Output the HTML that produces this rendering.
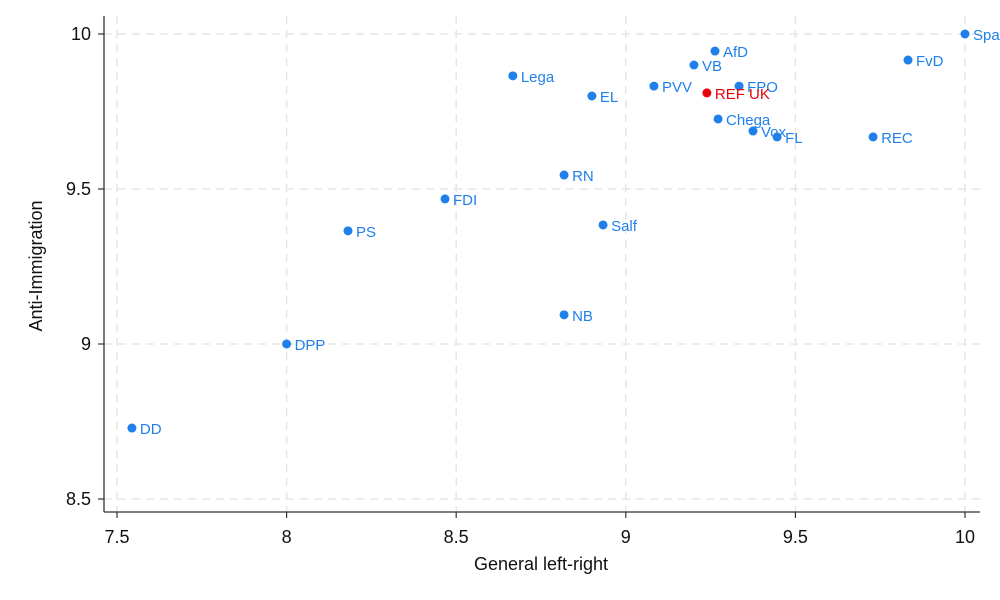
<!DOCTYPE html>
<html><head><meta charset="utf-8"><style>
body{margin:0;background:#fff;}
svg{display:block;font-family:"Liberation Sans",Arial,sans-serif;}
</style></head><body>
<svg id="chart" width="1000" height="600">
<g id="grid"></g>
<g id="axes"></g>
<g id="points"></g>
<text x="541" y="570" text-anchor="middle" font-size="18" fill="#111">General left-right</text>
<text transform="translate(42,266) rotate(-90)" text-anchor="middle" font-size="18" fill="#111">Anti-Immigration</text>
</svg>
<script>
const labels=["Spa","FvD","AfD","VB","PVV","FPO","REF UK","Chega","Vox","FL","REC","Lega","EL","RN","FDI","PS","Salf","NB","DPP","DD"];
const xVals=[10,9.832,9.263,9.201,9.083,9.334,9.239,9.272,9.375,9.446,9.729,8.667,8.900,8.818,8.467,8.181,8.933,8.818,8.0,7.544];
const yVals=[10,9.916,9.945,9.90,9.832,9.832,9.81,9.726,9.687,9.668,9.668,9.865,9.80,9.545,9.468,9.365,9.384,9.094,9.0,8.729];
const highlight=["REF UK"];
const xTicks=[7.5,8,8.5,9,9.5,10];
const yTicks=[8.5,9,9.5,10];
const xTickLabels=["7.5","8","8.5","9","9.5","10"];
const yTickLabels=["8.5","9","9.5","10"];
const NS="http://www.w3.org/2000/svg";
function sx(v){return 117+(v-7.5)*339.2;}
function sy(v){return 34+(10-v)*310;}
function mk(tag,attrs,parent,text){const e=document.createElementNS(NS,tag);for(const k in attrs)e.setAttribute(k,attrs[k]);if(text!==undefined)e.textContent=text;parent.appendChild(e);return e;}
const grid=document.getElementById('grid'),axes=document.getElementById('axes'),pts=document.getElementById('points');
const L=104,B=512,R=980,T=16;
xTicks.forEach((t,i)=>{
 const g=mk('line',{x1:sx(t),x2:sx(t),y1:T,y2:B,stroke:'#e6e6e6','stroke-width':1.5,'stroke-dasharray':'8,6'},grid);
 
 
 const tk=mk('line',{x1:sx(t),x2:sx(t),y1:B,y2:B+6,stroke:'#333','stroke-width':1.2},axes);
 
 
 const tl=mk('text',{x:sx(t),y:B+31,'text-anchor':'middle','font-size':18,fill:'#111'},axes,xTickLabels[i]);
 
 
});
yTicks.forEach((t,i)=>{
 const g=mk('line',{x1:L,x2:R,y1:sy(t),y2:sy(t),stroke:'#e6e6e6','stroke-width':1.5,'stroke-dasharray':'8,6'},grid);
 
 
 const tk=mk('line',{x1:L-6,x2:L,y1:sy(t),y2:sy(t),stroke:'#333','stroke-width':1.2},axes);
 
 
 const tl=mk('text',{x:L-13,y:sy(t)+6,'text-anchor':'end','font-size':18,fill:'#111'},axes,yTickLabels[i]);
 
 
});
const xa=mk('line',{x1:L,x2:R,y1:B,y2:B,stroke:'#333','stroke-width':1.3},axes);


const ya=mk('line',{x1:L,x2:L,y1:T,y2:B,stroke:'#333','stroke-width':1.3},axes);


labels.forEach((lab,i)=>{
 const col=highlight.includes(lab)?'#e8000b':'#1f80ea';
 const c=mk('circle',{cx:sx(xVals[i]),cy:sy(yVals[i]),r:4.5,fill:col},pts);
 
 
 const t=mk('text',{x:sx(xVals[i])+8,y:sy(yVals[i])+6,'font-size':15,fill:col},pts,lab);
 
 
});
</script>
</body></html>
